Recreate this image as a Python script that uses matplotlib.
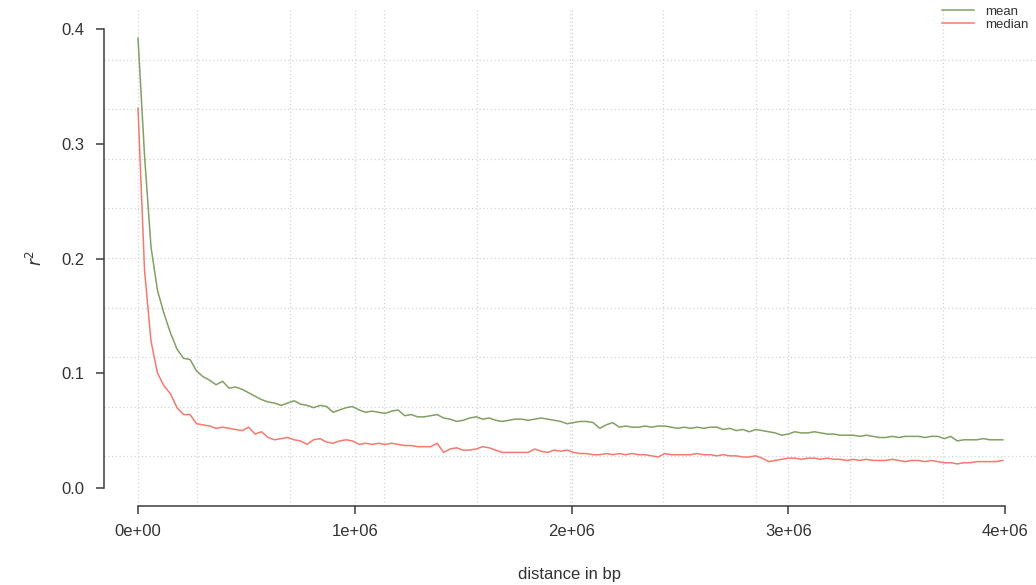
import matplotlib.pyplot as plt
import numpy as np

plt.rcParams['font.family'] = ['Liberation Sans', 'DejaVu Sans']

# distance bins (bp), 30 kb apart
dist = np.arange(0, 4.0e6, 30000)

r2_mean = [0.392, 0.290, 0.210, 0.172, 0.152, 0.135, 0.121, 0.113, 0.112, 0.102,
           0.097, 0.094, 0.090, 0.093, 0.087, 0.088, 0.086, 0.083, 0.080, 0.077,
           0.075, 0.074, 0.072, 0.074, 0.076, 0.073, 0.072, 0.070, 0.072, 0.071,
           0.066, 0.068, 0.070, 0.071, 0.068, 0.066, 0.067, 0.066, 0.065, 0.067,
           0.068, 0.063, 0.064, 0.062, 0.062, 0.063, 0.064, 0.061, 0.060, 0.058,
           0.059, 0.061, 0.062, 0.060, 0.061, 0.059, 0.058, 0.059, 0.060, 0.060,
           0.059, 0.060, 0.061, 0.060, 0.059, 0.058, 0.056, 0.057, 0.058, 0.058,
           0.057, 0.052, 0.055, 0.057, 0.053, 0.054, 0.053, 0.053, 0.054, 0.053,
           0.054, 0.054, 0.053, 0.052, 0.053, 0.052, 0.053, 0.052, 0.053, 0.053,
           0.051, 0.052, 0.050, 0.051, 0.049, 0.051, 0.050, 0.049, 0.048, 0.046,
           0.047, 0.049, 0.048, 0.048, 0.049, 0.048, 0.047, 0.047, 0.046, 0.046,
           0.046, 0.045, 0.046, 0.045, 0.044, 0.044, 0.045, 0.044, 0.045, 0.045,
           0.045, 0.044, 0.045, 0.045, 0.043, 0.045, 0.041, 0.042, 0.042, 0.042,
           0.043, 0.042, 0.042, 0.042]

r2_median = [0.331, 0.190, 0.128, 0.100, 0.089, 0.082, 0.070, 0.064, 0.064, 0.056,
             0.055, 0.054, 0.052, 0.053, 0.052, 0.051, 0.050, 0.053, 0.047, 0.049,
             0.044, 0.042, 0.043, 0.044, 0.042, 0.041, 0.038, 0.042, 0.043, 0.040,
             0.039, 0.041, 0.042, 0.041, 0.038, 0.039, 0.038, 0.039, 0.038, 0.039,
             0.038, 0.037, 0.037, 0.036, 0.036, 0.036, 0.039, 0.031, 0.034, 0.035,
             0.033, 0.033, 0.034, 0.036, 0.035, 0.033, 0.031, 0.031, 0.031, 0.031,
             0.031, 0.034, 0.032, 0.031, 0.033, 0.032, 0.033, 0.031, 0.030, 0.030,
             0.029, 0.029, 0.030, 0.029, 0.030, 0.029, 0.030, 0.029, 0.029, 0.028,
             0.027, 0.030, 0.029, 0.029, 0.029, 0.029, 0.030, 0.029, 0.029, 0.028,
             0.029, 0.028, 0.028, 0.027, 0.027, 0.028, 0.026, 0.023, 0.024, 0.025,
             0.026, 0.026, 0.025, 0.026, 0.026, 0.025, 0.026, 0.025, 0.025, 0.024,
             0.025, 0.024, 0.025, 0.024, 0.024, 0.024, 0.025, 0.024, 0.023, 0.024,
             0.024, 0.023, 0.024, 0.023, 0.022, 0.022, 0.021, 0.022, 0.022, 0.023,
             0.023, 0.023, 0.023, 0.024]

x_ticks = [0, 1e6, 2e6, 3e6, 4e6]
x_ticklabels = ['0e+00', '1e+06', '2e+06', '3e+06', '4e+06']
y_ticks = [0.0, 0.1, 0.2, 0.3, 0.4]

W, H = 1036, 585
fig = plt.figure(figsize=(W / 100, H / 100), dpi=100)
# plot region in pixels: x 104..1036, y 10..506
ax = fig.add_axes([104 / W, (H - 506) / H, (1036 - 104) / W, (506 - 10) / H])

xlo, xhi = -0.1569e6, 4.1430e6
ylo, yhi = -0.0157, 0.4166
ax.set_xlim(xlo, xhi)
ax.set_ylim(ylo, yhi)

# dotted grid: 10 equal cells plus lines at the x ticks
grid_kw = dict(color='#d4d4d4', lw=0.9, linestyle=(0, (1, 2)), zorder=0)
for f in np.linspace(0, 1, 11)[1:-1]:
    ax.axhline(ylo + f * (yhi - ylo), **grid_kw)
    ax.axvline(xlo + f * (xhi - xlo), **grid_kw)
for xv in x_ticks[:-1]:
    ax.axvline(xv, **grid_kw)

ax.plot(dist, r2_mean, color='#82a064', lw=1.1, label='mean')
ax.plot(dist, r2_median, color='#f47a6e', lw=1.1, label='median')

for s in ['top', 'right']:
    ax.spines[s].set_visible(False)
for s in ['left', 'bottom']:
    ax.spines[s].set_color('#3c3c3c')
    ax.spines[s].set_linewidth(1.1)
ax.spines['left'].set_bounds(0, 0.4)
ax.spines['bottom'].set_bounds(0, 4e6)

ax.set_xticks(x_ticks)
ax.set_xticklabels(x_ticklabels)
ax.set_yticks(y_ticks)
ax.set_yticklabels(['%.1f' % v for v in y_ticks])
ax.tick_params(direction='out', length=6, width=1.1, color='#3c3c3c',
               labelsize=12, labelcolor='#333333')
ax.tick_params(axis='x', pad=7)
ax.tick_params(axis='y', pad=8)

ax.set_xlabel('distance in bp', fontsize=12, color='#333333', labelpad=20)
ax.set_ylabel(r'$r^2$', fontsize=12, color='#333333', labelpad=12)

leg = ax.legend(loc='upper right', bbox_to_anchor=(1.0, 1.025), frameon=False,
                fontsize=9.5, handlelength=2.4, handletextpad=0.8, labelspacing=0.05,
                borderaxespad=0.2)
for t in leg.get_texts():
    t.set_color('#333333')

fig.savefig('out.png', dpi=100)
